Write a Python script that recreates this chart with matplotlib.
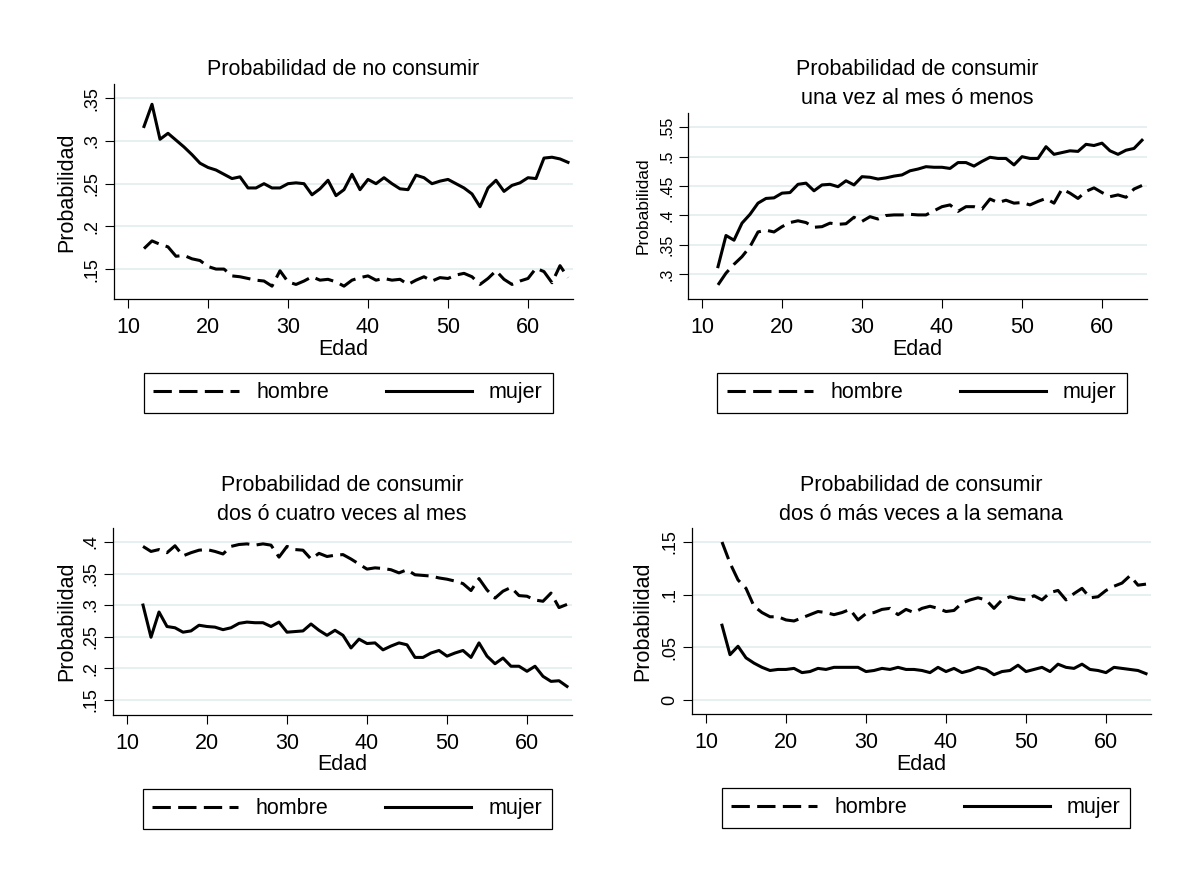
import matplotlib
matplotlib.use('Agg')
import matplotlib.pyplot as plt
from matplotlib.lines import Line2D

plt.rcParams['font.family'] = ['Liberation Sans', 'DejaVu Sans']

edad = list(range(12, 66))

# probabilidad de no consumir
no_mujer = [0.317, 0.343, 0.302, 0.309, 0.301, 0.293, 0.284, 0.274, 0.269, 0.266,
            0.261, 0.256, 0.258, 0.245, 0.245, 0.250, 0.245, 0.245, 0.250, 0.251,
            0.250, 0.237, 0.244, 0.254, 0.236, 0.243, 0.261, 0.243, 0.255, 0.250,
            0.257, 0.250, 0.244, 0.243, 0.260, 0.257, 0.250, 0.253, 0.255, 0.250,
            0.245, 0.238, 0.223, 0.245, 0.254, 0.241, 0.248, 0.251, 0.257, 0.256,
            0.280, 0.281, 0.279, 0.275]
no_hombre = [0.174, 0.183, 0.179, 0.176, 0.165, 0.166, 0.162, 0.160, 0.153, 0.150,
             0.150, 0.142, 0.141, 0.139, 0.137, 0.136, 0.130, 0.148, 0.135, 0.132,
             0.136, 0.141, 0.137, 0.138, 0.135, 0.130, 0.137, 0.140, 0.142, 0.137,
             0.139, 0.137, 0.138, 0.132, 0.137, 0.141, 0.136, 0.140, 0.139, 0.143,
             0.145, 0.141, 0.132, 0.139, 0.148, 0.138, 0.132, 0.136, 0.139, 0.151,
             0.147, 0.134, 0.154, 0.140]

# una vez al mes o menos
mes_mujer = [0.313, 0.366, 0.358, 0.387, 0.402, 0.421, 0.429, 0.430, 0.438, 0.439,
             0.453, 0.455, 0.442, 0.452, 0.453, 0.449, 0.459, 0.452, 0.466, 0.465,
             0.462, 0.464, 0.467, 0.469, 0.476, 0.479, 0.483, 0.482, 0.482, 0.480,
             0.490, 0.490, 0.484, 0.492, 0.499, 0.497, 0.497, 0.486, 0.500, 0.497,
             0.497, 0.517, 0.504, 0.507, 0.510, 0.509, 0.521, 0.519, 0.523, 0.510,
             0.504, 0.511, 0.514, 0.528]
mes_hombre = [0.282, 0.302, 0.317, 0.330, 0.347, 0.372, 0.375, 0.372, 0.381, 0.388,
              0.391, 0.388, 0.380, 0.381, 0.387, 0.385, 0.386, 0.397, 0.390, 0.398,
              0.394, 0.400, 0.401, 0.401, 0.402, 0.401, 0.401, 0.408, 0.415, 0.418,
              0.407, 0.415, 0.415, 0.411, 0.428, 0.422, 0.426, 0.421, 0.422, 0.418,
              0.424, 0.429, 0.421, 0.445, 0.438, 0.429, 0.441, 0.447, 0.439, 0.432,
              0.435, 0.431, 0.445, 0.451]

# dos o cuatro veces al mes
cuatro_mujer = [0.300, 0.249, 0.289, 0.266, 0.264, 0.257, 0.259, 0.268, 0.266, 0.265,
                0.261, 0.264, 0.271, 0.273, 0.272, 0.272, 0.266, 0.273, 0.257, 0.258,
                0.259, 0.270, 0.260, 0.252, 0.260, 0.252, 0.232, 0.246, 0.239, 0.240,
                0.229, 0.235, 0.240, 0.237, 0.217, 0.217, 0.224, 0.228, 0.219, 0.224,
                0.228, 0.217, 0.240, 0.219, 0.207, 0.216, 0.203, 0.203, 0.195, 0.203,
                0.187, 0.179, 0.180, 0.171]
cuatro_hombre = [0.393, 0.385, 0.388, 0.383, 0.394, 0.378, 0.383, 0.387, 0.388, 0.385,
                 0.381, 0.393, 0.396, 0.397, 0.395, 0.397, 0.395, 0.376, 0.393, 0.388,
                 0.387, 0.373, 0.382, 0.377, 0.379, 0.380, 0.373, 0.365, 0.357, 0.359,
                 0.358, 0.356, 0.351, 0.356, 0.348, 0.347, 0.346, 0.343, 0.341, 0.338,
                 0.334, 0.323, 0.342, 0.324, 0.311, 0.322, 0.328, 0.315, 0.314, 0.308,
                 0.306, 0.319, 0.296, 0.301]

# dos o mas veces a la semana
semana_mujer = [0.071, 0.043, 0.051, 0.040, 0.035, 0.031, 0.028, 0.029, 0.029, 0.030,
                0.026, 0.027, 0.030, 0.029, 0.031, 0.031, 0.031, 0.031, 0.027, 0.028,
                0.030, 0.029, 0.031, 0.029, 0.029, 0.028, 0.026, 0.031, 0.027, 0.030,
                0.026, 0.028, 0.031, 0.029, 0.024, 0.027, 0.028, 0.033, 0.027, 0.029,
                0.031, 0.027, 0.034, 0.031, 0.030, 0.034, 0.029, 0.028, 0.026, 0.031,
                0.030, 0.029, 0.028, 0.025]
semana_hombre = [0.150, 0.130, 0.114, 0.106, 0.089, 0.083, 0.079, 0.079, 0.076, 0.075,
                 0.078, 0.081, 0.084, 0.083, 0.081, 0.083, 0.086, 0.076, 0.082, 0.083,
                 0.086, 0.087, 0.081, 0.086, 0.083, 0.087, 0.089, 0.087, 0.084, 0.085,
                 0.092, 0.095, 0.097, 0.095, 0.087, 0.095, 0.098, 0.096, 0.095, 0.099,
                 0.095, 0.102, 0.104, 0.095, 0.101, 0.106, 0.097, 0.098, 0.104, 0.108,
                 0.111, 0.118, 0.109, 0.110]

titulos = [["Probabilidad de no consumir"],
           ["Probabilidad de consumir", "una vez al mes ó menos"],
           ["Probabilidad de consumir", "dos ó cuatro veces al mes"],
           ["Probabilidad de consumir", "dos ó más veces a la semana"]]
hombres = [no_hombre, mes_hombre, cuatro_hombre, semana_hombre]
mujeres = [no_mujer, mes_mujer, cuatro_mujer, semana_mujer]
yticks = [[0.15, 0.2, 0.25, 0.3, 0.35],
          [0.3, 0.35, 0.4, 0.45, 0.5, 0.55],
          [0.15, 0.2, 0.25, 0.3, 0.35, 0.4],
          [0, 0.05, 0.1, 0.15]]
ytick_labels = [['.15', '.2', '.25', '.3', '.35'],
                ['.3', '.35', '.4', '.45', '.5', '.55'],
                ['.15', '.2', '.25', '.3', '.35', '.4'],
                ['0', '.05', '.1', '.15']]
xticks = [10, 20, 30, 40, 50, 60]

# layout in pixels (left, top, bottom), y limits, font sizes
W, H = 1204, 874
lefts = [114, 688, 113, 692]
tops = [84.3, 112.7, 528.3, 528.3]
bottoms = [299.3, 299.3, 715, 714]
ylims = [(0.1146, 0.3664), (0.2575, 0.5748), (0.1257, 0.4217), (-0.0133, 0.163)]
ytick_fs = [13, 11.5, 13, 13]
ylab_fs = [15.5, 12.5, 15.5, 15.5]
ylab_x = [67, 643, 67, 643]
title_base = [[75], [75, 104], [490.7, 519.7], [490.7, 519.7]]
xmin, xmax = 8.25, 65.6
px_per_year = 8.0
width = (xmax - xmin) * px_per_year
fs = 15.5

fig = plt.figure(figsize=(W / 100, H / 100), dpi=100)

for i in range(4):
    l, t, b = lefts[i], tops[i], bottoms[i]
    hpx = b - t
    ax = fig.add_axes([l / W, 1 - b / H, width / W, hpx / H])
    ax.plot(edad, hombres[i], color='black', lw=2.2, dashes=(6, 2.4),
            solid_joinstyle='round', clip_on=False)
    ax.plot(edad, mujeres[i], color='black', lw=2.2, solid_joinstyle='round',
            clip_on=False)
    ax.set_xlim(xmin, xmax)
    ax.set_ylim(*ylims[i])
    ax.set_xticks(xticks)
    ax.set_yticks(yticks[i], ytick_labels[i], rotation=90, va='center')
    ax.grid(axis='y', color='#e6eef0', lw=1.3)
    ax.set_axisbelow(True)
    for s in ['top', 'right']:
        ax.spines[s].set_visible(False)
    for s in ['left', 'bottom']:
        ax.spines[s].set_linewidth(0.9)
    ax.tick_params(axis='x', labelsize=fs, pad=6.5, length=6.5, width=0.8)
    ax.tick_params(axis='y', labelsize=ytick_fs[i], pad=3.5, length=6.5, width=0.8)
    ax.set_ylabel('Probabilidad', fontsize=ylab_fs[i], va='center')
    ax.yaxis.set_label_coords((ylab_x[i] - l) / width, 0.5)
    ax.set_xlabel('Edad', fontsize=fs, va='baseline')
    ax.xaxis.set_label_coords(0.5, -55.5 / hpx)

    # title and legend centred under the plot region
    cx = l + (8.25 + 66.75) / 2 * px_per_year - xmin * px_per_year
    for line, yb in zip(titulos[i], title_base[i]):
        fig.text(cx / W - 0.004, 1 - yb / H, line, ha='center', va='baseline', fontsize=fs)

    h1 = Line2D([], [], color='black', lw=2.2, dashes=(6, 2.4))
    h2 = Line2D([], [], color='black', lw=2.2)
    leg_top = b + 73.5
    leg_w = 409
    leg_x = cx - leg_w / 2
    leg = fig.legend([h1, h2], ['hombre', 'mujer'], loc='upper left',
                     bbox_to_anchor=(leg_x / W, 1 - (leg_top + 41) / H, leg_w / W, 41 / H),
                     mode='expand', ncol=2, fontsize=fs, borderaxespad=0,
                     borderpad=0.45, handlelength=4, handletextpad=0.8,
                     fancybox=False, framealpha=1, edgecolor='black')
    leg.get_frame().set_linewidth(0.9)

fig.savefig('out.png', dpi=100)
